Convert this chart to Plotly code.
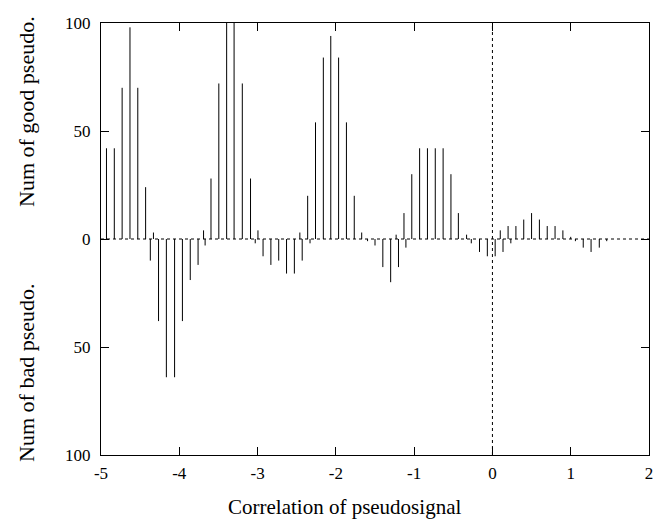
import plotly.graph_objects as go

# Good pseudo (positive impulses)
good_x = [-4.93, -4.83, -4.73, -4.63, -4.53, -4.43, -4.33,
          -3.69, -3.595, -3.495, -3.395, -3.30, -3.195, -3.09, -2.995,
          -2.46, -2.36, -2.26, -2.16, -2.065, -1.965, -1.865, -1.765, -1.67,
          -1.23, -1.13, -1.03, -0.93, -0.83, -0.73, -0.63, -0.53, -0.435, -0.33,
          0.10, 0.20, 0.30, 0.40, 0.50, 0.60, 0.70, 0.80, 0.90, 1.00]
good_v = [42, 42, 70, 98, 70, 24, 3,
          4, 28, 72, 100, 100, 72, 28, 4,
          3, 20, 54, 84, 94, 84, 54, 20, 3,
          2, 12, 30, 42, 42, 42, 42, 30, 12, 2,
          4, 6, 6, 9, 12, 9, 6, 6, 4, 1]

# Bad pseudo (drawn downward)
bad_x = [-4.37, -4.265, -4.165, -4.06, -3.96, -3.86, -3.76, -3.67,
         -3.03, -2.93, -2.83, -2.73, -2.63, -2.53, -2.43, -2.33,
         -1.595, -1.50, -1.40, -1.30, -1.20, -1.105,
         -0.27, -0.165, -0.065, 0.035, 0.135, 0.235,
         1.06, 1.16, 1.26, 1.365, 1.46]
bad_v = [10, 38, 64, 64, 38, 19, 12, 3,
         2, 8, 12, 10, 16, 16, 10, 2,
         1, 3, 13, 20, 13, 4,
         2, 6, 8, 8, 6, 2,
         1, 4, 6, 4, 1]

x_ticks = [-5, -4, -3, -2, -1, 0, 1, 2]
x_tick_text = ["-5", "-4", "-3", "-2", "-1", "0", "1", "2"]
y_ticks = [-100, -50, 0, 50, 100]
y_tick_text = ["100", "50", "0", "50", "100"]
x_range = [-5, 2]
y_range = [-100, 100]

FONT = "Liberation Serif, Times New Roman, serif"


def impulses(xs, vs, sign):
    px, py = [], []
    for x, v in zip(xs, vs):
        px += [x, x, None]
        py += [0, sign * v, None]
    return px, py


fig = go.Figure()

# dotted zero axes
fig.add_trace(go.Scatter(x=x_range, y=[0, 0], mode="lines",
                         line=dict(color="black", width=1, dash="dot"),
                         hoverinfo="skip", showlegend=False))
fig.add_trace(go.Scatter(x=[0, 0], y=y_range, mode="lines",
                         line=dict(color="black", width=1, dash="dot"),
                         hoverinfo="skip", showlegend=False))

gx, gy = impulses(good_x, good_v, 1)
bx, by = impulses(bad_x, bad_v, -1)
fig.add_trace(go.Scatter(x=gx, y=gy, mode="lines",
                         line=dict(color="black", width=1), showlegend=False))
fig.add_trace(go.Scatter(x=bx, y=by, mode="lines",
                         line=dict(color="black", width=1), showlegend=False))

fig.update_layout(
    width=663, height=519,
    margin=dict(l=101, r=10, t=23, b=64),
    paper_bgcolor="white", plot_bgcolor="white",
    font=dict(family=FONT, size=17, color="black"),
    showlegend=False,
    xaxis=dict(range=x_range, tickvals=x_ticks, ticktext=x_tick_text,
               ticks="inside", ticklen=8, ticklabelstandoff=3,
               tickcolor="black", showline=True, linecolor="black", linewidth=1,
               mirror="ticks", showgrid=False, zeroline=False),
    yaxis=dict(range=y_range, tickvals=y_ticks, ticktext=y_tick_text,
               ticks="inside", ticklen=8, ticklabelstandoff=6,
               tickcolor="black", showline=True,
               linecolor="black", linewidth=1, mirror="ticks",
               showgrid=False, zeroline=False),
    annotations=[
        dict(text="Correlation of pseudosignal", xref="paper", yref="paper",
             x=(346 - 101) / 552, y=-0.12, showarrow=False,
             font=dict(size=21), xanchor="center", yanchor="middle"),
        dict(text="Num of good pseudo.", xref="paper", yref="paper",
             x=-0.135, y=0.794, textangle=-90, showarrow=False,
             font=dict(size=22), xanchor="center", yanchor="middle"),
        dict(text="Num of bad pseudo.", xref="paper", yref="paper",
             x=-0.135, y=0.19, textangle=-90, showarrow=False,
             font=dict(size=22), xanchor="center", yanchor="middle"),
    ],
)

fig.write_html("out.html")
